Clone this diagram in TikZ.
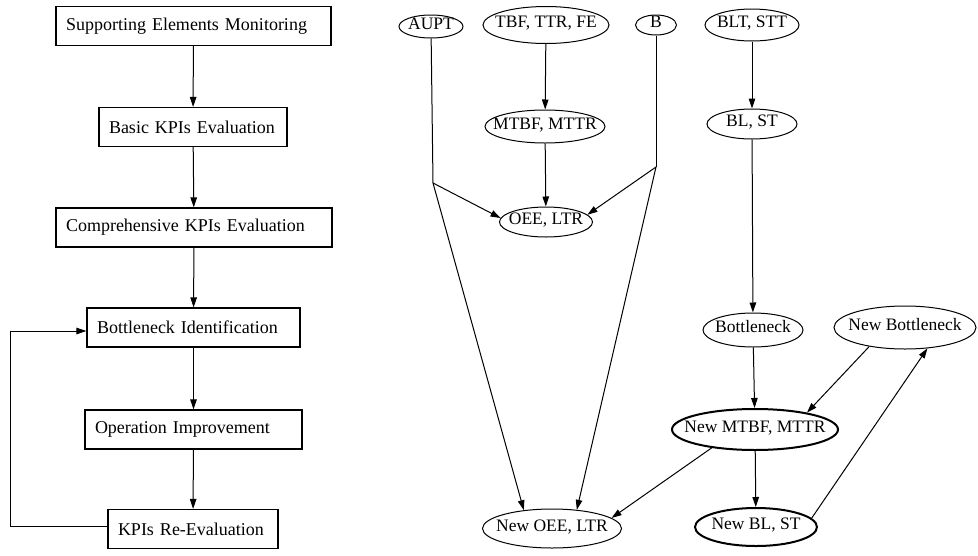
\documentclass[tikz,border=0pt]{standalone}
\usepackage{fontspec}
\setmainfont{Liberation Serif}
\usetikzlibrary{shapes}
\usetikzlibrary{arrows.meta}

\begin{document}
\begin{tikzpicture}[x=1pt,y=-1pt]
	\tikzstyle{stage}=[rectangle,draw,line width=1.2pt,inner xsep=10pt,align=left,minimum height=39pt,font=\fontsize{18}{20}\selectfont]
	\tikzstyle{oval}=[ellipse,draw,line width=1pt,inner sep=0pt,text height=1.5ex,text depth=.25ex,font=\fontsize{17.5}{20}\selectfont,execute at begin node={\hbox to 0pt\bgroup\hss},execute at end node={\hss\egroup}]
	\tikzstyle{newoval}=[oval,line width=2pt]
	\tikzstyle{flow}=[-{Triangle[length=10pt,width=6.5pt]},line width=1pt]
	\useasboundingbox (0,0) rectangle (978,555);

	% stages of the procedure
	\node[stage,text width=255pt] (sem) at (193.5,26) {Supporting Elements Monitoring};
	\node[stage,text width=168pt] (bke) at (193,127) {Basic KPIs Evaluation};
	\node[stage,text width=256pt] (cke) at (194,227.5) {Comprehensive KPIs Evaluation};
	\node[stage,text width=193pt] (bni) at (193.5,327.5) {Bottleneck Identification};
	\node[stage,text width=197pt] (opi) at (193.5,429.5) {Operation Improvement};
	\node[stage,text width=150pt] (kre) at (193,529) {KPIs Re-Evaluation};

	\draw[flow] (sem) -- (bke);
	\draw[flow] (bke) -- (cke);
	\draw[flow] (cke) -- (bni);
	\draw[flow] (bni) -- (opi);
	\draw[flow] (opi) -- (kre);
	\draw[flow] ([yshift=3pt]kre.west) -- ++(-97,0) |- ([yshift=-3.5pt]bni.west);

	% measured data and indicators
	\node[oval,minimum width=64pt,minimum height=23pt] (aupt) at (431,26.5) {AUPT};
	\node[oval,minimum width=126pt,minimum height=37pt] (tbf) at (546,25) {TBF, TTR, FE};
	\node[oval,minimum width=41pt,minimum height=20pt] (b) at (656,25) {B};
	\node[oval,minimum width=94pt,minimum height=32pt] (blt) at (752,25) {BLT, STT};
	\node[oval,minimum width=120pt,minimum height=33pt] (mtbf) at (545,126.5) {MTBF, MTTR};
	\node[oval,minimum width=90pt,minimum height=30pt] (blst) at (752,124) {BL, ST};
	\node[oval,minimum width=93pt,minimum height=30pt] (oee) at (546,222) {OEE, LTR};
	\node[oval,minimum width=100pt,minimum height=34pt] (bn) at (753,330) {Bottleneck};
	\node[oval,minimum width=142pt,minimum height=43pt] (nbn) at (905,327.5) {New Bottleneck};
	\node[newoval,minimum width=166pt,minimum height=41pt] (nmtbf) at (755,429.5) {New MTBF, MTTR};
	\node[newoval,minimum width=122pt,minimum height=38pt] (nblst) at (756,527) {New BL, ST};
	\node[oval,minimum width=139pt,minimum height=39pt] (noee) at (552,528.5) {New OEE, LTR};

	\coordinate (aj) at (433,183);
	\coordinate (bj) at (656,167);

	\draw[flow] (tbf) -- (mtbf);
	\draw[flow] (mtbf) -- (oee);
	\draw[flow] (blt) -- (blst);
	\draw[flow] (blst) -- (bn);
	\draw[flow] (bn) -- (nmtbf);
	\draw[flow] (nmtbf) -- (nblst);
	\draw[line width=1pt] (aupt) -- (aj);
	\draw[flow] (aj) -- (oee.175);
	\draw[flow] (aj) -- (noee.147);
	\draw[line width=1pt] (b) -- (bj);
	\draw[flow] (bj) -- (oee.10);
	\draw[flow] (bj) -- (noee.37);
	\draw[flow] (nmtbf.203) -- (noee.10);
	\draw[flow] (nbn.208) -- (nmtbf.18);
	\draw[flow] (nblst.9) -- (nbn.317);
\end{tikzpicture}
\end{document}
